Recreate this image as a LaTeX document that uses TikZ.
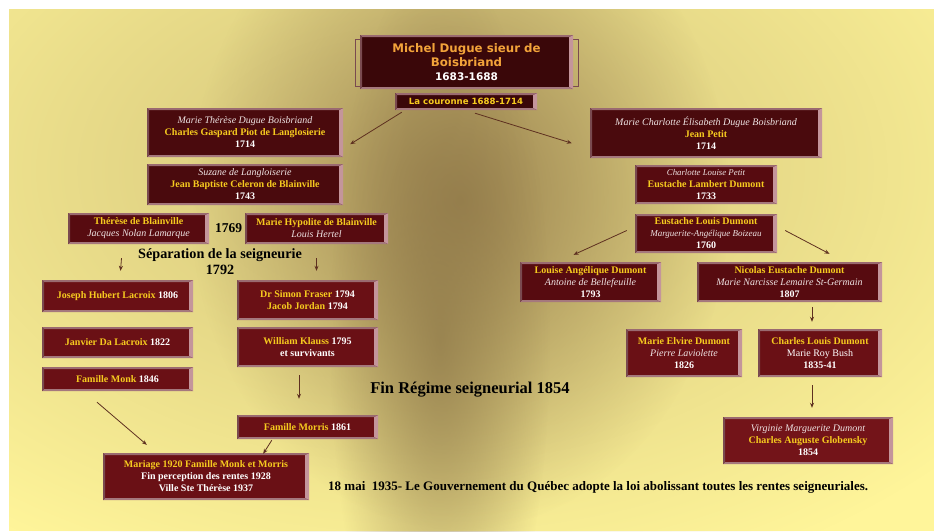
\documentclass[tikz,border=0pt]{standalone}
\usepackage{fontspec}
\setmainfont{Liberation Serif}
\newfontfamily\verdana{DejaVu Sans}
\usetikzlibrary{arrows.meta,positioning,calc,fadings}
\definecolor{fond}{HTML}{FFF59A}
\definecolor{dore}{HTML}{9C8450}
\definecolor{nuit}{HTML}{3A0709}
\definecolor{bordeaux}{HTML}{4A0A0D}
\definecolor{grenat}{HTML}{570B10}
\definecolor{cramoisi}{HTML}{6A1015}
\definecolor{rubis}{HTML}{731419}
\definecolor{nomjaune}{HTML}{F6CB1F}
\definecolor{titreor}{HTML}{F2A33A}
\definecolor{conjoint}{HTML}{EEE3E3}
\definecolor{biseauR}{HTML}{C4959B}
\definecolor{biseauH}{HTML}{9A6A70}
\definecolor{biseauB}{HTML}{A5787D}
\definecolor{biseauG}{HTML}{7A4A50}
\definecolor{fleche}{HTML}{5E3020}
\tikzfading[name=halo, inner color=transparent!0, outer color=transparent!100]
\newcommand{\nom}[1]{{\color{nomjaune}#1}}
\newcommand{\conj}[1]{{\color{conjoint}\mdseries\itshape #1}}
\tikzset{
  fiche/.style={rectangle, fill=#1, align=center, inner sep=1pt, text=white,
                font=\fontsize{10}{12}\selectfont\bfseries,
                path picture={
                  \fill[biseauR] (path picture bounding box.north east) -- (path picture bounding box.south east)
                    -- ([xshift=-4pt,yshift=2pt]path picture bounding box.south east) -- ([xshift=-4pt,yshift=-2pt]path picture bounding box.north east) -- cycle;
                  \fill[biseauH] (path picture bounding box.north west) -- (path picture bounding box.north east)
                    -- ([xshift=-4pt,yshift=-2pt]path picture bounding box.north east) -- ([xshift=2pt,yshift=-2pt]path picture bounding box.north west) -- cycle;
                  \fill[biseauB] (path picture bounding box.south west) -- (path picture bounding box.south east)
                    -- ([xshift=-4pt,yshift=2pt]path picture bounding box.south east) -- ([xshift=2pt,yshift=2pt]path picture bounding box.south west) -- cycle;
                  \fill[biseauG] (path picture bounding box.north west) -- (path picture bounding box.south west)
                    -- ([xshift=2pt,yshift=2pt]path picture bounding box.south west) -- ([xshift=2pt,yshift=-2pt]path picture bounding box.north west) -- cycle;
                }},
  taille/.style 2 args={minimum width=#1pt, minimum height=#2pt},
  gros/.style={font=\fontsize{#1}{#1}\selectfont\bfseries, text=black, align=center, inner sep=0pt},
  arr/.style={-{Stealth[length=5pt,width=4pt]}, line width=0.8pt, draw=fleche},
}

\begin{document}
\begin{tikzpicture}[x=1pt, y=-1pt]
\useasboundingbox (0,0) rectangle (934,531);
\fill[white] (0,0) rectangle (934,531);
\fill[fond] (9,9) rectangle (934,531);
\begin{scope}
\clip (9,9) rectangle (934,531);
\fill[dore!45!fond, path fading=halo] (420,170) ellipse (700 and 440);
\fill[dore, path fading=halo] (460,200) ellipse (270 and 330);
\fill[dore!90!black, path fading=halo, opacity=0.7] (440,340) ellipse (110 and 380);
\end{scope}

\draw[biseauG, line width=0.8pt] (355,39) rectangle (578,86);
\node[fiche=nuit, taille={213}{54}, text=titreor, font=\verdana\bfseries\fontsize{11.8}{14}\selectfont] (michel) at (466.5,62)
  {Michel Dugue sieur de\\Boisbriand\\\color{white}\fontsize{10.5}{13}\selectfont 1683-1688};
\node[fiche=nuit, taille={142}{17}, font=\verdana\bfseries\fontsize{8.6}{10}\selectfont] (couronne) at (466,101.5) {\nom{La couronne 1688-1714}};

\node[fiche=bordeaux, taille={196}{49}] (therese) at (245,132.5) {\conj{Marie Thérèse Dugue Boisbriand}\\\nom{Charles Gaspard Piot de Langlosierie}\\1714};
\node[fiche=bordeaux, taille={196}{41}] (suzane) at (245,184.5) {\conj{Suzane de Langloiserie}\\\nom{Jean Baptiste Celeron de Blainville}\\1743};
\node[fiche=grenat, taille={141}{31}] (thb) at (138.5,228.5) {\nom{Thérèse de Blainville}\\\conj{Jacques Nolan Lamarque}};
\node[gros=13.5] (an1769) at (228.5,228) {1769};
\node[fiche=grenat, taille={143}{31}] (hypolite) at (316.5,228.5) {\nom{Marie Hypolite de Blainville}\\\conj{Louis Hertel}};
\node[gros=14.2, font=\fontsize{14.2}{16.5}\selectfont\bfseries] (separation) at (220,261.5) {Séparation de la seigneurie\\1792};

\node[fiche=cramoisi, taille={151}{32}] (joseph) at (117.5,296) {\nom{Joseph Hubert Lacroix} 1806};
\node[fiche=cramoisi, taille={151}{31}] (janvier) at (117.5,342.5) {\nom{Janvier Da Lacroix} 1822};
\node[fiche=cramoisi, taille={151}{24}] (monk) at (117.5,379) {\nom{Famille Monk} 1846};
\node[fiche=cramoisi, taille={141}{40}] (fraser) at (307.5,300) {\nom{Dr Simon Fraser} 1794\\\nom{Jacob Jordan} 1794};
\node[fiche=cramoisi, taille={141}{40}] (klauss) at (307.5,347) {\nom{William Klauss} 1795\\et survivants};
\node[fiche=cramoisi, taille={141}{24}] (morris) at (307.5,427) {\nom{Famille Morris} 1861};
\node[fiche=cramoisi, taille={206}{47}] (mariage) at (206,476.5) {\nom{Mariage 1920 Famille Monk et Morris}\\Fin perception des rentes 1928\\Ville Ste Thérèse 1937};

\node[gros=16.5] (finregime) at (470,390) {Fin Régime seigneurial 1854};
\node[gros=13, anchor=west] (loi) at (328,487) {18 mai\ \ 1935- Le Gouvernement du Québec adopte la loi abolissant toutes les rentes seigneuriales.};

\node[fiche=bordeaux, taille={232}{50}] (charlotteE) at (706,133) {\conj{Marie Charlotte Élisabeth Dugue Boisbriand}\\\nom{Jean Petit}\\1714};
\node[fiche=grenat, taille={142}{39}] (charlotteL) at (706,184.5) {{\fontsize{8.8}{11}\selectfont\conj{Charlotte Louise Petit}}\\\nom{Eustache Lambert Dumont}\\1733};
\node[fiche=grenat, taille={142}{39}] (eustache) at (706,233.5) {\nom{Eustache Louis Dumont}\\{\fontsize{9}{11}\selectfont\conj{Marguerite-Angélique Boizeau}}\\1760};
\node[fiche=grenat, taille={141}{40}] (louise) at (590.5,282) {\nom{Louise Angélique Dumont}\\\conj{Antoine de Bellefeuille}\\1793};
\node[fiche=grenat, taille={185}{40}] (nicolas) at (789.5,282) {\nom{Nicolas Eustache Dumont}\\\conj{Marie Narcisse Lemaire St-Germain}\\1807};
\node[fiche=cramoisi, taille={116}{48}] (elvire) at (684,353) {\nom{Marie Elvire Dumont}\\\conj{Pierre Laviolette}\\1826};
\node[fiche=cramoisi, taille={124}{48}] (charles) at (820,353) {\nom{Charles Louis Dumont}\\{\mdseries Marie Roy Bush}\\1835-41};
\node[fiche=rubis, taille={170}{47}] (virginie) at (808,440.5) {\conj{Virginie Marguerite Dumont}\\\nom{Charles Auguste Globensky}\\1854};

\draw[arr] ($(couronne.south west)+(7,2)$) -- ($(therese.south east)+(7,-13)$);
\draw[arr] ($(couronne.south)+(9,3)$) -- ($(charlotteE.south west)+(-18,-15)$);
\draw[arr] ($(eustache.west)+(-8,-3)$) -- ($(louise.north)+(-17,-7)$);
\draw[arr] ($(eustache.east)+(8,-3)$) -- ($(nicolas.north)+(40,-8)$);
\draw[arr] ($(thb.south)+(-17,14)$) -- ($(joseph.north)+(3,-9)$);
\draw[arr] ($(hypolite.south)+(0,14)$) -- ($(fraser.north)+(9,-9)$);
\draw[arr] ($(klauss.south)+(-8.5,8)$) -- ($(morris.north)+(-8.5,-16)$);
\draw[arr] ($(monk.south)+(-20.5,11)$) -- ($(mariage.north west)+(44,-8)$);
\draw[arr] ($(morris.south west)+(35,1)$) -- ($(mariage.north east)+(-46,1)$);
\draw[arr] ($(nicolas.south)+(22.5,5)$) -- ($(charles.north)+(-8,-7)$);
\draw[arr] ($(charles.south)+(-8,8)$) -- ($(virginie.north)+(4,-9)$);
\end{tikzpicture}
\end{document}
